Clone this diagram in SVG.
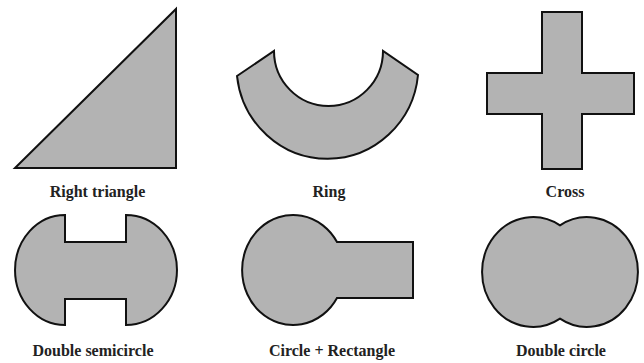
<svg xmlns="http://www.w3.org/2000/svg" width="644" height="363" viewBox="0 0 644 363">
<style>
.shape{fill:#b3b3b3;stroke:#111;stroke-width:2;stroke-linejoin:miter}
.lbl{font-family:"Liberation Serif","Times New Roman",serif;font-weight:bold;font-size:16px;fill:#222;text-anchor:middle}
</style>
<rect width="644" height="363" fill="#fff"/>
<g id="right-triangle">
<path class="shape" d="M15,168 L176,9 L176,168 Z"/>
<text class="lbl" x="97.5" y="196.5">Right triangle</text>
</g>
<g id="ring">
<path class="shape" d="M237,76 L274,51 A54.5,55 0 1 0 383,51 L418,75 A91,93 0 0 1 237,76 Z"/>
<text class="lbl" x="329" y="196.5">Ring</text>
</g>
<g id="cross">
<path class="shape" d="M542,12 L582,12 L582,73 L634,73 L634,114 L582,114 L582,169 L542,169 L542,114 L487,114 L487,73 L542,73 Z"/>
<text class="lbl" x="565" y="196.5">Cross</text>
</g>
<g id="double-semicircle">
<path class="shape" d="M65,215 L65,242 L126,242 L126,215 A51,55 0 0 1 126,325 L126,299 L65,299 L65,325 A50,55 0 0 1 65,215 Z"/>
<text class="lbl" x="93" y="356">Double semicircle</text>
</g>
<g id="circle-rectangle">
<path class="shape" d="M337,242 L413,242 L413,298 L337,298 A51,55 0 1 1 337,242 Z"/>
<text class="lbl" x="332" y="356">Circle + Rectangle</text>
</g>
<g id="double-circle">
<path class="shape" d="M560,225.3 A51,55 0 1 1 560,318.7 A51,55 0 1 1 560,225.3 Z"/>
<text class="lbl" x="561" y="356">Double circle</text>
</g>
</svg>
